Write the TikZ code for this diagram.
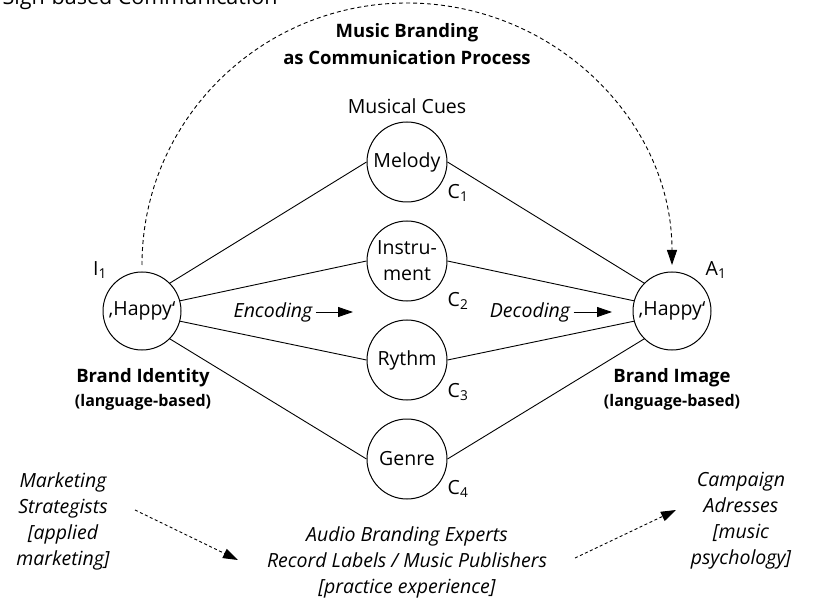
\documentclass[tikz,border=0pt]{standalone}
\usepackage{fontspec}
\setmainfont{Open Sans}
\newcommand{\semibf}{\bfseries}
\usetikzlibrary{arrows.meta}

\begin{document}
\begin{tikzpicture}[x=1pt,y=-1pt,
  every node/.style={font=\fontsize{19.5}{26}\selectfont},
  cue/.style={circle,draw,line width=1pt,minimum size=80pt,inner sep=0pt,align=center},
  happy/.style={circle,draw,line width=1pt,minimum size=78pt,inner sep=0pt},
  lnk/.style={line width=0.9pt},
  tip/.style={-{Triangle[length=15pt,width=10pt]}},
  flow/.style={line width=0.9pt,dash pattern=on 3pt off 2.5pt},
  itx/.style={align=center,font=\itshape\fontsize{19.5}{26}\selectfont}]
\useasboundingbox (0,0) rectangle (817,604);

\node[anchor=base west,font=\fontsize{21.5}{26}\selectfont] (sign) at (-1,5) {Sign-based Communication};
\node[align=center,font=\semibf\fontsize{18.5}{27}\selectfont] (title) at (407,44) {Music Branding\\as Communication Process};
\node (cues) at (407,106) {Musical Cues};

\node[happy] (I) at (142,311) {‚Happy‘};
\node[happy] (A) at (672,311) {‚Happy‘};
\node[cue] (m) at (407,162) {Melody};
\node[cue] (i) at (407,261) {Instru-\\ment};
\node[cue] (r) at (407,360) {Rythm};
\node[cue] (g) at (407,459) {Genre};
\draw[lnk] (I.45) -- (m.west);
\draw[lnk] (I.15) -- (i.west);
\draw[lnk] (I.-15) -- (r.west);
\draw[lnk] (I.-45) -- (g.west);
\draw[lnk] (m.east) -- (A.135);
\draw[lnk] (i.east) -- (A.165);
\draw[lnk] (r.east) -- (A.195);
\draw[lnk] (g.east) -- (A.225);

\node (c1) at (458,193) {C\textsubscript{1}};
\node (c2) at (458,301) {C\textsubscript{2}};
\node (c3) at (458,392) {C\textsubscript{3}};
\node (c4) at (458,489) {C\textsubscript{4}};
\node (i1) at (100,270) {I\textsubscript{1}};
\node (a1) at (716,270) {A\textsubscript{1}};

\node[font=\semibf\fontsize{18.5}{26}\selectfont] (bid) at (143,378) {Brand Identity};
\node[font=\semibf\fontsize{16}{20}\selectfont] (bidl) at (143,402) {(language-based)};
\node[font=\semibf\fontsize{18.5}{26}\selectfont] (bim) at (672,378) {Brand Image};
\node[font=\semibf\fontsize{16}{20}\selectfont] (biml) at (672,402) {(language-based)};

% encoding / decoding
\node[itx] (enc) at (273,312) {Encoding};
\node[itx] (dec) at (530,312) {Decoding};
\coordinate (encT) at (353,312);
\coordinate (decT) at (612,312);
\draw[lnk,tip] (enc) -- (encT);
\draw[lnk,tip] (dec) -- (decT);

% communication process
\coordinate (aL) at (142,265);
\draw[lnk,dash pattern=on 4pt off 3pt,tip] (aL) arc[start angle=180,end angle=0,x radius=265pt,y radius=262pt];

% actors
\node[itx] (mkt) at (63,521) {Marketing\\Strategists\\{[applied}\\marketing]};
\node[itx] (abe) at (407,562) {Audio Branding Experts\\Record Labels / Music Publishers\\{[practice experience]}};
\node[itx] (cmp) at (741,521) {Campaign\\Adresses\\{[music}\\psychology]};
\coordinate (m1) at (135,510);
\coordinate (m2) at (238,560);
\coordinate (e1) at (575,558);
\coordinate (e2) at (676,510);
\draw[flow,tip] (m1) -- (m2);
\draw[flow,tip] (e1) -- (e2);
\end{tikzpicture}
\end{document}
